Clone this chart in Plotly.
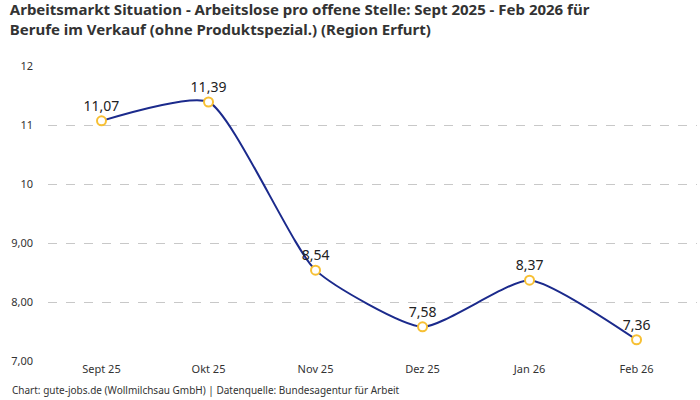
import plotly.graph_objects as go

# monthly values
months = ['Sept 25', 'Okt 25', 'Nov 25', 'Dez 25', 'Jan 26', 'Feb 26']
ratio = [11.07, 11.39, 8.54, 7.58, 8.37, 7.36]
y_ticks = [7, 8, 9, 10, 11, 12]
y_tick_text = ['7,00', '8,00', '9,00', '10', '11', '12']

labels = [f'{v:.2f}'.replace('.', ',') for v in ratio]

fig = go.Figure()
fig.add_trace(go.Scatter(
    x=months, y=ratio,
    mode='lines+markers+text',
    line=dict(color='#1b2a8c', width=2, shape='spline', smoothing=0.55),
    marker=dict(size=9, color='white', line=dict(color='#f7c034', width=2)),
    text=labels, textposition='top center',
    textfont=dict(size=14, color='#222222', family='Noto Sans'),
    cliponaxis=False,
    showlegend=False,
))

fig.update_layout(
    width=700, height=400,
    margin=dict(l=48, r=3, t=66, b=39),
    paper_bgcolor='white', plot_bgcolor='white',
    font=dict(family='Noto Sans', color='#333333'),
    title=dict(
        text='<b>Arbeitsmarkt Situation - Arbeitslose pro offene Stelle: Sept 2025 - Feb 2026 für<br>'
             'Berufe im Verkauf (ohne Produktspezial.) (Region Erfurt)</b>',
        x=0.014, xanchor='left', y=0.962, yanchor='top',
        font=dict(size=15, color='#333333', family='Noto Sans'),
    ),
    xaxis=dict(
        range=[-0.5, 5.565], showgrid=False, zeroline=False, showline=False,
        ticks='', tickfont=dict(size=11, color='#333333'),
    ),
    yaxis=dict(
        range=[7, 12], tickvals=y_ticks, ticktext=y_tick_text,
        showgrid=True, gridcolor='#c8c8c8', griddash='dash', gridwidth=1,
        zeroline=False, showline=False, ticks='',
        tickfont=dict(size=11, color='#333333'), ticklabelstandoff=14,
    ),
    annotations=[dict(
        text='Chart: gute-jobs.de (Wollmilchsau GmbH) | Datenquelle: Bundesagentur für Arbeit',
        xref='paper', yref='paper', x=-0.0585, y=-0.068, xanchor='left', yanchor='top',
        showarrow=False, font=dict(size=10, color='#333333'),
    )],
)

# page body has a default margin; remove it so the figure sits at the top-left
fig.write_html('out.html', config={'displayModeBar': False},
               post_script="document.body.style.margin='0';")
